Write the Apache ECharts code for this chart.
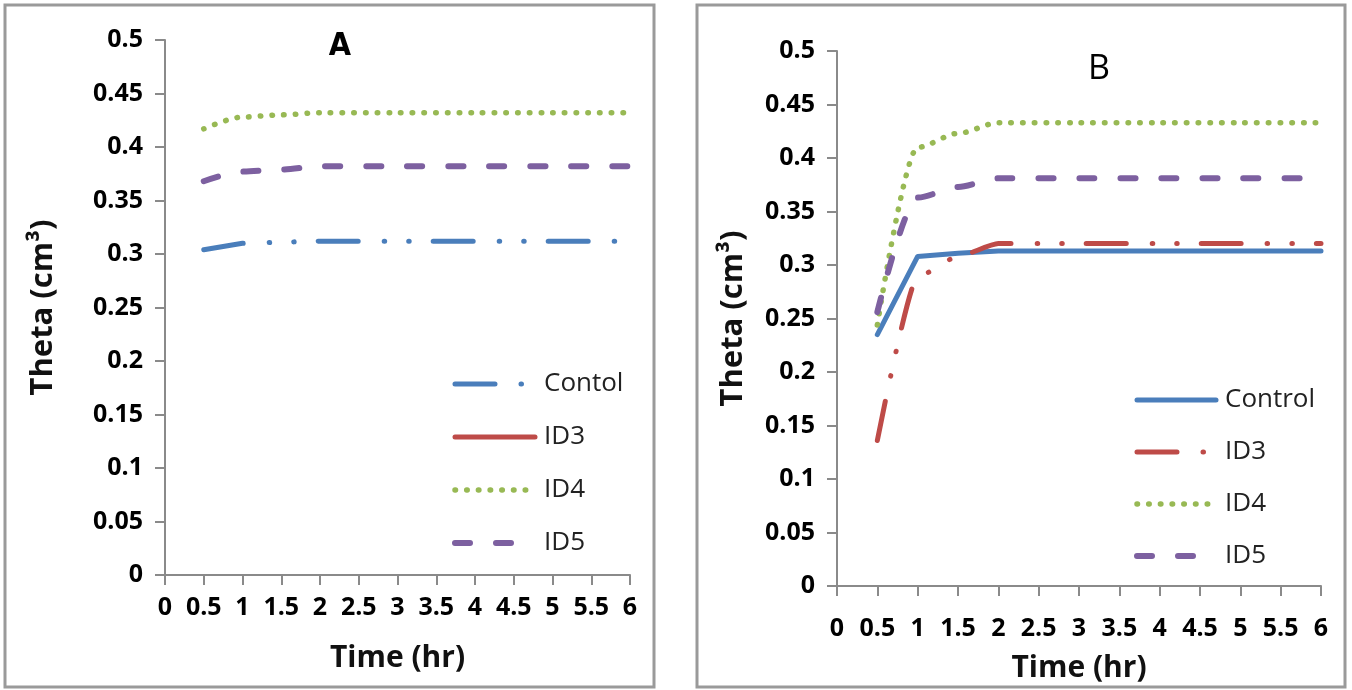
<!DOCTYPE html>
<html>
<head>
<meta charset="UTF-8">
<title>Theta vs time</title>
<script src="https://cdn.jsdelivr.net/npm/echarts@6/dist/echarts.min.js"></script>
<style>
    html, body { margin: 0; padding: 0; background: #fff; }
    #main { width: 1352px; height: 690px; }
</style>
</head>
<body>
<div id="main"></div>
<script>
// time points (hr)
var timeA = [0.5, 1, 1.5, 2, 3, 4, 5, 6];
var timeB = [0.5, 1, 1.5, 2, 3, 4, 5, 6];

// panel A
var controlA = [0.304, 0.310, 0.311, 0.312, 0.312, 0.312, 0.312, 0.312];
var id3A = [];
var id4A = [0.417, 0.428, 0.430, 0.432, 0.432, 0.432, 0.432, 0.432];
var id5A = [0.368, 0.377, 0.379, 0.382, 0.382, 0.382, 0.382, 0.382];

// panel B
var controlB = [0.235, 0.308, 0.311, 0.313, 0.313, 0.313, 0.313, 0.313];
var id3B = [0.136, 0.289, 0.308, 0.320, 0.320, 0.320, 0.320, 0.320];
var id4B = [0.244, 0.410, 0.423, 0.433, 0.433, 0.433, 0.433, 0.433];
var id5B = [0.256, 0.363, 0.373, 0.381, 0.381, 0.381, 0.381, 0.381];

var namesA = ['Contol', 'ID3', 'ID4', 'ID5'];
var namesB = ['Control', 'ID3', 'ID4', 'ID5'];

var BLUE = '#4a7ebb', RED = '#be4b48', GREEN = '#98b954', PURPLE = '#7d60a0';
var dashDotDot = [40, 26, 0.5, 24, 0.5, 24];
var dotted = [0.5, 11.2];
var dashed = [15, 26];

function pairs(xs, ys) {
    return ys.map(function (v, i) { return [xs[i], v]; });
}

function mkSeries(panel, name, xs, ys, color, width, type, smooth) {
    return {
        name: panel + '|' + name,
        type: 'line',
        xAxisIndex: panel === 'A' ? 0 : 1,
        yAxisIndex: panel === 'A' ? 0 : 1,
        data: pairs(xs, ys),
        symbol: 'none',
        smooth: smooth || false,
        smoothMonotone: 'x',
        lineStyle: { color: color, width: width, type: type, cap: 'round', join: 'round' },
        itemStyle: { color: color },
        emphasis: { disabled: true }
    };
}

function mkX(idx, margin, nameGap) {
    return {
        type: 'value', gridIndex: idx, min: 0, max: 6, interval: 0.5,
        name: 'Time (hr)', nameLocation: 'middle', nameGap: nameGap,
        nameTextStyle: { fontFamily: 'Open Sans', fontWeight: 'bold', fontSize: 30, color: '#111' },
        axisLine: { show: true, onZero: false, lineStyle: { color: '#8a8a8a', width: 2 } },
        axisTick: { show: true, length: 10, lineStyle: { color: '#8a8a8a', width: 2 } },
        splitLine: { show: false },
        axisLabel: { margin: margin, fontFamily: 'Open Sans', fontWeight: 'bold', fontSize: 25, color: '#000',
            showMinLabel: true, showMaxLabel: true }
    };
}

function mkY(idx, margin, nameGap) {
    return {
        type: 'value', gridIndex: idx, min: 0, max: 0.5, interval: 0.05,
        name: 'Theta (cm\u00b3)', nameLocation: 'middle', nameGap: nameGap, nameRotate: 90,
        nameTextStyle: { fontFamily: 'Open Sans', fontWeight: 'bold', fontSize: 31, color: '#111' },
        axisLine: { show: true, lineStyle: { color: '#8a8a8a', width: 2 } },
        axisTick: { show: true, length: 10, lineStyle: { color: '#8a8a8a', width: 2 } },
        splitLine: { show: false },
        axisLabel: { margin: margin, fontFamily: 'Open Sans', fontWeight: 'bold', fontSize: 25, color: '#000',
            formatter: function (v) { return String(+v.toFixed(2)); } }
    };
}

function mkLegend(panel, names, left, top, gap, width) {
    return {
        orient: 'vertical', left: left, top: top, padding: 0,
        itemWidth: width, itemHeight: 14, itemGap: gap,
        selectedMode: false,
        itemStyle: { opacity: 0 },
        lineStyle: { width: 'inherit', cap: 'round' },
        data: names.map(function (n) { return panel + '|' + n; }),
        formatter: function (n) { return n.split('|')[1]; },
        textStyle: { fontFamily: 'Open Sans', fontSize: 26, color: '#222', lineHeight: 26, padding: [0, 0, 0, 4] }
    };
}

var chart = echarts.init(document.getElementById('main'));
chart.setOption({
    animation: false,
    backgroundColor: '#fff',
    grid: [
        { left: 165, top: 40, width: 465, height: 535 },
        { left: 837, top: 51, width: 484, height: 535 }
    ],
    xAxis: [mkX(0, 20, 68), mkX(1, 30, 67)],
    yAxis: [mkY(0, 22, 106), mkY(1, 22, 88)],
    legend: [
        mkLegend('A', namesA, 452, 371, 27, 80),
        mkLegend('B', namesB, 1134, 387, 26, 79)
    ],
    graphic: [
        { type: 'rect', shape: { x: 5, y: 5, width: 649, height: 682 },
          style: { fill: 'none', stroke: '#9a9a9a', lineWidth: 3 } },
        { type: 'rect', shape: { x: 697, y: 5, width: 648, height: 682 },
          style: { fill: 'none', stroke: '#9a9a9a', lineWidth: 3 } },
        { type: 'text', x: 340, y: 47,
          style: { text: 'A', fontFamily: 'DejaVu Sans Condensed', fontWeight: 'bold', fontSize: 32,
                   fill: '#000', textAlign: 'center', textVerticalAlign: 'middle' } },
        { type: 'text', x: 1099, y: 69,
          style: { text: 'B', fontFamily: 'Open Sans', fontSize: 34,
                   fill: '#000', textAlign: 'center', textVerticalAlign: 'middle' } }
    ],
    series: [
        mkSeries('A', 'Contol', timeA, controlA, BLUE, 5, dashDotDot),
        mkSeries('A', 'ID3', timeA, id3A, RED, 5, 'solid'),
        mkSeries('A', 'ID4', timeA, id4A, GREEN, 5.5, dotted, 0.3),
        mkSeries('A', 'ID5', timeA, id5A, PURPLE, 6, dashed, 0.3),
        mkSeries('B', 'Control', timeB, controlB, BLUE, 5, 'solid'),
        mkSeries('B', 'ID3', timeB, id3B, RED, 5, dashDotDot, 0.2),
        mkSeries('B', 'ID4', timeB, id4B, GREEN, 5.5, dotted, 0.3),
        mkSeries('B', 'ID5', timeB, id5B, PURPLE, 6, dashed, 0.3)
    ]
});
</script>
</body>
</html>
